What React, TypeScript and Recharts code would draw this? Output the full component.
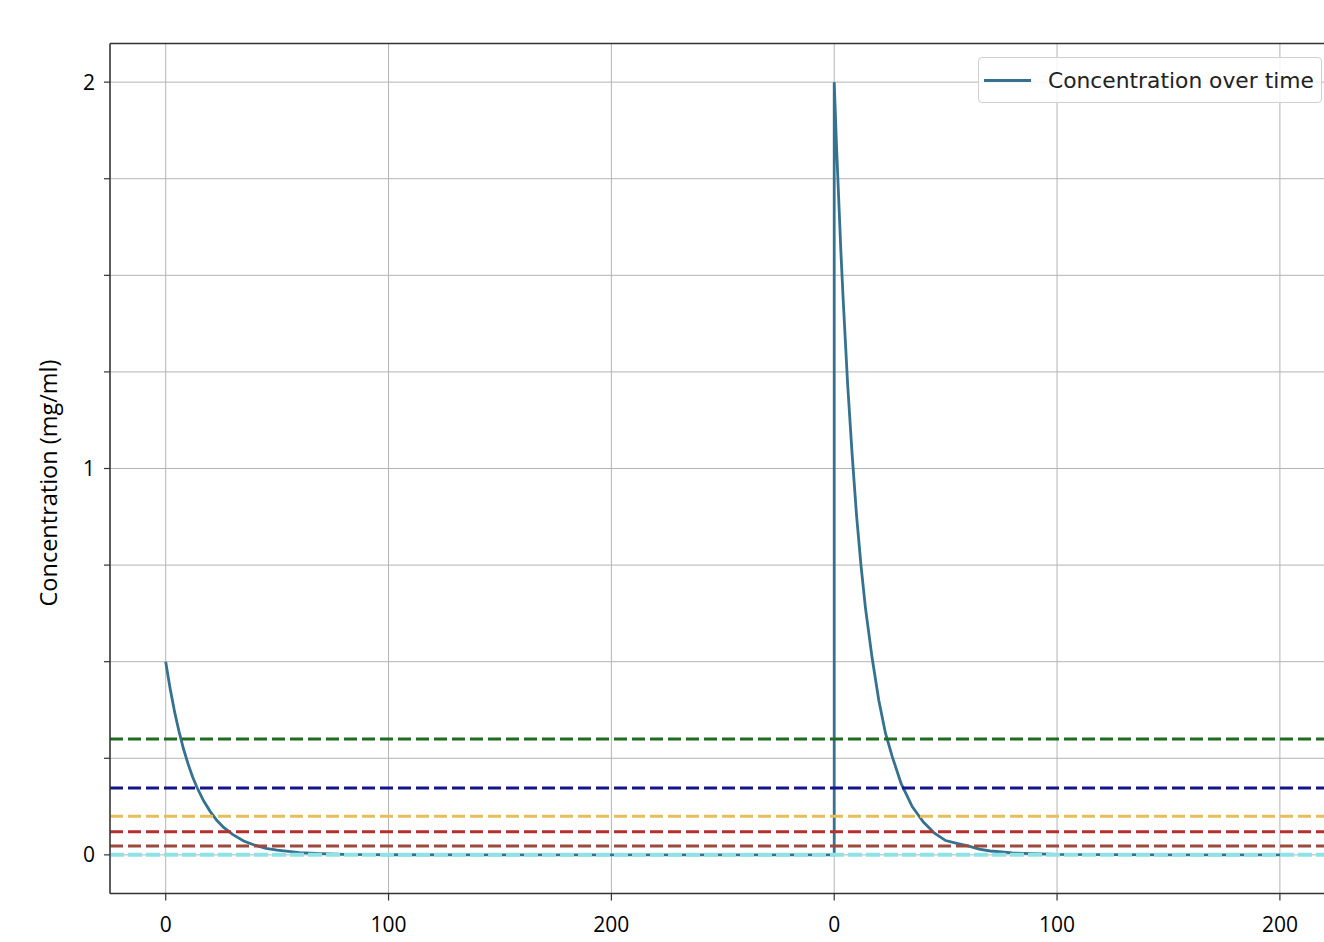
import { CartesianGrid, Line, LineChart, ReferenceLine, XAxis, YAxis } from "recharts";

// first dose at t = 0, second dose at t = 300 (axis restarts at 0 there)
const firstTimes = [0, 1, 2, 3, 4, 5, 6, 8, 10, 12, 14, 17, 20, 23, 26, 30, 35, 40, 45, 50, 60, 70, 80, 100, 150, 200, 250, 300];
const firstConc = [
  0.5, 0.464, 0.43, 0.4, 0.37, 0.344, 0.319, 0.274, 0.236, 0.203, 0.175, 0.14, 0.112, 0.089, 0.071,
  0.053, 0.036, 0.025, 0.017, 0.012, 0.006, 0.003, 0.0012, 0.0003, 0, 0, 0, 0,
];

const secondTimes = [300, 301, 302, 303, 304, 305, 306, 308, 310, 312, 314, 317, 320, 323, 326, 330, 335, 340, 345, 350, 355, 360, 365, 370, 380, 400, 450, 500];
const secondConc = [
  2.0, 1.84, 1.7, 1.56, 1.44, 1.33, 1.22, 1.04, 0.88, 0.75, 0.64, 0.51, 0.4, 0.315, 0.255,
  0.185, 0.125, 0.085, 0.056, 0.037, 0.03, 0.023, 0.015, 0.01, 0.005, 0.0015, 0, 0,
];

const thresholds = [0.3, 0.173, 0.1, 0.06, 0.023];
const baseline = 0;

const xTicks = [0, 100, 200, 300, 400, 500];
const xTickLabels = ["0", "100", "200", "0", "100", "200"];
const yTicks = [0, 0.25, 0.5, 0.75, 1, 1.25, 1.5, 1.75, 2];

const data = [
  ...firstTimes.map((t, i) => ({ time: t, conc: firstConc[i] })),
  ...secondTimes.map((t, i) => ({ time: t, conc: secondConc[i] })),
];

const thresholdColors = ["#1f6b1f", "#14148c", "#e6bf5c", "#b3302c", "#9a4b3e"];
const lineColor = "#35728f";
const axisColor = "#333333";

export default function App() {
  return (
    <div
      style={{
        position: "absolute",
        left: 0,
        top: 0,
        width: 1324,
        height: 942,
        overflow: "hidden",
        background: "#fff",
      }}
    >
      <div
        style={{
          position: "absolute",
          left: 48,
          top: 483,
          transform: "translate(-50%, -50%) rotate(-90deg)",
          fontFamily: "Open Sans",
          fontSize: 23.5,
          whiteSpace: "nowrap",
          color: "#000",
        }}
      >
        Concentration (mg/ml)
      </div>
      <LineChart
        width={1360}
        height={942}
        data={data}
        margin={{ top: 43.5, right: 24.4, left: 0, bottom: 0 }}
      >
        <CartesianGrid stroke="#b4b4b4" strokeWidth={1} />
        <XAxis
          dataKey="time"
          type="number"
          domain={[-25, 525]}
          ticks={xTicks}
          tickFormatter={(v: number) => xTickLabels[xTicks.indexOf(v)] ?? ""}
          allowDataOverflow
          height={48.5}
          axisLine={{ stroke: axisColor, strokeWidth: 1.5 }}
          tickLine={{ stroke: axisColor, strokeWidth: 1.2 }}
          tickSize={7}
          tickMargin={17}
          tick={{ fill: "#000", fontSize: 21, fontFamily: "Open Sans" }}
        />
        <YAxis
          type="number"
          domain={[-0.1, 2.1]}
          ticks={yTicks}
          tickFormatter={(v: number) => (Number.isInteger(v) ? String(v) : "")}
          allowDataOverflow
          width={110}
          axisLine={{ stroke: axisColor, strokeWidth: 1.5 }}
          tickLine={{ stroke: axisColor, strokeWidth: 1.2 }}
          tickSize={6}
          tickMargin={9}
          tick={{ fill: "#000", fontSize: 21, fontFamily: "Open Sans" }}
        />
        <ReferenceLine y={2.1} stroke={axisColor} strokeWidth={1.5} />
        <Line
          type="linear"
          dataKey="conc"
          stroke={lineColor}
          strokeWidth={2.8}
          dot={false}
          isAnimationActive={false}
          name="Concentration over time"
        />
        {thresholds.map((v, i) => (
          <ReferenceLine
            key={v}
            y={v}
            stroke={thresholdColors[i]}
            strokeWidth={3}
            strokeDasharray="13 5"
          />
        ))}
        <ReferenceLine y={baseline} stroke="#8fe3e6" strokeWidth={4} strokeDasharray="14 4" />
      </LineChart>
      <div
        style={{
          position: "absolute",
          left: 978,
          top: 57,
          width: 344,
          height: 46,
          border: "1px solid #d0d0d0",
          borderRadius: 4,
          background: "rgba(255,255,255,0.85)",
          display: "flex",
          alignItems: "center",
          boxSizing: "border-box",
        }}
      >
        <div style={{ width: 47, height: 3, background: lineColor, marginLeft: 5, marginRight: 17 }} />
        <span style={{ fontFamily: "DejaVu Sans", fontSize: 21.8, color: "#222", whiteSpace: "nowrap" }}>
          Concentration over time
        </span>
      </div>
    </div>
  );
}
